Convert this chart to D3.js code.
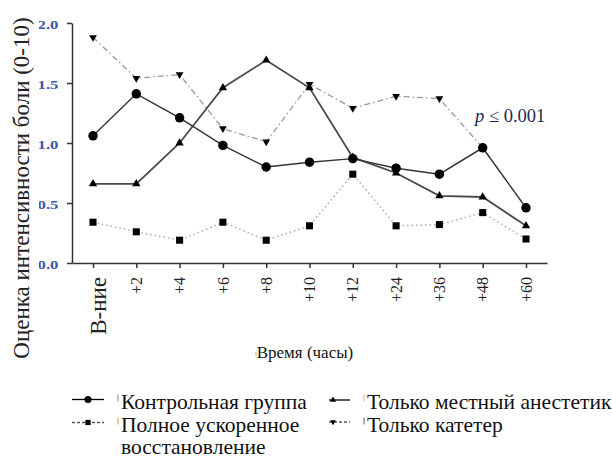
<!DOCTYPE html>
<html>
<head>
<meta charset="utf-8">
<script src="https://cdn.jsdelivr.net/npm/d3@7/dist/d3.min.js"></script>
<style>
  body { margin: 0; background: #fff; }
  svg { display: block; }
  svg text { font-family: "Liberation Serif", "Times New Roman", serif; }
</style>
</head>
<body>
<div id="chart"></div>
<script>
// data
var times = ["В-ние", "+2", "+4", "+6", "+8", "+10", "+12", "+24", "+36", "+48", "+60"];
var control = [1.06, 1.41, 1.21, 0.98, 0.80, 0.84, 0.87, 0.79, 0.74, 0.96, 0.46];
var localOnly = [0.66, 0.66, 1.00, 1.46, 1.69, 1.46, 0.88, 0.75, 0.56, 0.55, 0.31];
var catheterOnly = [1.88, 1.54, 1.57, 1.12, 1.01, 1.49, 1.29, 1.39, 1.37, 0.96, 0.46];
var fullEras = [0.34, 0.26, 0.19, 0.34, 0.19, 0.31, 0.74, 0.31, 0.32, 0.42, 0.20];
var yTicks = [0, 0.5, 1.0, 1.5, 2.0];

var svg = d3.select("#chart").append("svg")
    .attr("width", 612)
    .attr("height", 459);

var x = d3.scalePoint().domain(times).range([72, 547]).padding(0.485);
var y = d3.scaleLinear().domain([0, 2]).range([263, 23]);

// series styles
var series = [
    {name: "eras", vals: fullEras, stroke: "#aaa", width: 1.5, dash: "1.5,3", sym: d3.symbolSquare, size: 50, rot: 0},
    {name: "cath", vals: catheterOnly, stroke: "#999", width: 1.3, dash: "6,3,1.5,3", sym: d3.symbolTriangle, size: 26, rot: 180},
    {name: "local", vals: localOnly, stroke: "#4a4a4a", width: 1.8, dash: null, sym: d3.symbolTriangle, size: 30, rot: 0},
    {name: "ctrl", vals: control, stroke: "#333", width: 1.4, dash: null, sym: d3.symbolCircle, size: 70, rot: 0}
];

// axes
svg.append("g")
    .attr("transform", "translate(72,0)")
    .call(d3.axisLeft(y).tickValues(yTicks).tickSize(5).tickSizeOuter(0))
    .selectAll("text").remove();

var xAxis = svg.append("g")
    .attr("transform", "translate(0,263)")
    .call(d3.axisBottom(x).tickSize(5).tickSizeOuter(0));
xAxis.selectAll("text").remove();

svg.selectAll(".domain, .tick line")
    .attr("stroke", "#333")
    .attr("stroke-width", 1.5);

// y tick labels, wide and partly hidden by the title
svg.append("clipPath").attr("id", "ylab")
    .append("rect").attr("x", 39).attr("y", 0).attr("width", 30).attr("height", 300);
svg.append("g")
    .attr("clip-path", "url(#ylab)")
    .selectAll("text")
    .data(yTicks).enter()
    .append("text")
    .attr("transform", function(d){ return "translate(58.5," + (y(d) + 1.5) + ") scale(1.4,1)"; })
    .attr("text-anchor", "end")
    .attr("dy", "0.35em")
    .attr("font-size", "12px")
    .attr("font-weight", "bold")
    .attr("fill", "#3c5aa8")
    .text(d3.format(".1f"));

// rotated x labels
svg.selectAll(".xlab")
    .data(times).enter()
    .append("text")
    .attr("class", "xlab")
    .attr("transform", function(d){ return "translate(" + x(d) + ",277) rotate(-90)"; })
    .attr("text-anchor", "end")
    .attr("dy", function(d, i){ return i == 0 ? "0.56em" : "0.35em"; })
    .attr("font-size", function(d, i){ return i == 0 ? "23px" : "16px"; })
    .attr("fill", "#222")
    .text(function(d){ return d; });

// lines + markers
series.forEach(function(s){
    var line = d3.line()
        .x(function(d, i){ return x(times[i]); })
        .y(function(d){ return y(d); });
    svg.append("path")
        .datum(s.vals)
        .attr("d", line)
        .attr("fill", "none")
        .attr("stroke", s.stroke)
        .attr("stroke-width", s.width)
        .attr("stroke-dasharray", s.dash);
    svg.selectAll(".m-" + s.name)
        .data(s.vals).enter()
        .append("path")
        .attr("class", "m-" + s.name)
        .attr("d", d3.symbol().type(s.sym).size(s.size))
        .attr("transform", function(d, i){
            return "translate(" + x(times[i]) + "," + y(d) + ") rotate(" + s.rot + ")";
        })
        .attr("fill", "#000");
});

// p value
var pt = svg.append("text")
    .attr("x", 475)
    .attr("y", 122)
    .attr("font-size", "18.5px")
    .attr("fill", "#1e2a50");
pt.append("tspan").attr("font-style", "italic").text("p");
pt.append("tspan").text(" ≤ 0.001");

// axis titles
svg.append("text")
    .attr("transform", "translate(29,188) rotate(-90)")
    .attr("text-anchor", "middle")
    .attr("font-size", "23px")
    .attr("fill", "#222")
    .text("Оценка интенсивности боли (0-10)");

svg.append("text")
    .attr("x", 305)
    .attr("y", 358)
    .attr("text-anchor", "middle")
    .attr("font-size", "17px")
    .attr("fill", "#111")
    .text("Время (часы)");
svg.append("line")
    .attr("x1", 256).attr("x2", 256).attr("y1", 352).attr("y2", 356)
    .attr("stroke", "#e0a060").attr("stroke-width", 1);

// legend
var legend = [
    {s: series[3], lx: 72, mx: 88, y: 399.5, tx: 121, lines: ["Контрольная группа"], ty: 408.5, mark: "#6a8ac8"},
    {s: series[0], lx: 72, mx: 88, y: 422.5, tx: 121, lines: ["Полное ускоренное", "восстановление"], ty: 431.5, mark: "#e09040"},
    {s: series[2], lx: 329, mx: 333, y: 400, tx: 367, lines: ["Только местный анестетик"], ty: 408.5, mark: "#f0b060"},
    {s: series[1], lx: 329, mx: 333, y: 422, tx: 367, lines: ["Только катетер"], ty: 431.5, mark: "#7050a0"}
];

legend.forEach(function(l){
    var w = l.lx == 72 ? 32 : 21;
    svg.append("line")
        .attr("x1", l.lx).attr("x2", l.lx + w)
        .attr("y1", l.y).attr("y2", l.y)
        .attr("stroke", l.s.dash ? "#555" : "#000")
        .attr("stroke-width", 1.3)
        .attr("stroke-dasharray", l.s.dash ? "3,2" : null);
    svg.append("path")
        .attr("d", d3.symbol().type(l.s.sym).size(l.s.size * 0.55))
        .attr("transform", "translate(" + l.mx + "," + l.y + ") rotate(" + l.s.rot + ")")
        .attr("fill", "#000");
    svg.append("line")
        .attr("x1", l.tx - 3).attr("x2", l.tx - 3)
        .attr("y1", l.ty - 14).attr("y2", l.ty - 7)
        .attr("stroke", l.mark).attr("stroke-width", 1);
    l.lines.forEach(function(t, i){
        svg.append("text")
            .attr("x", l.tx)
            .attr("y", l.ty + i * 22)
            .attr("font-size", "21.5px")
            .attr("fill", "#111")
            .text(t);
    });
});
</script>
</body>
</html>
